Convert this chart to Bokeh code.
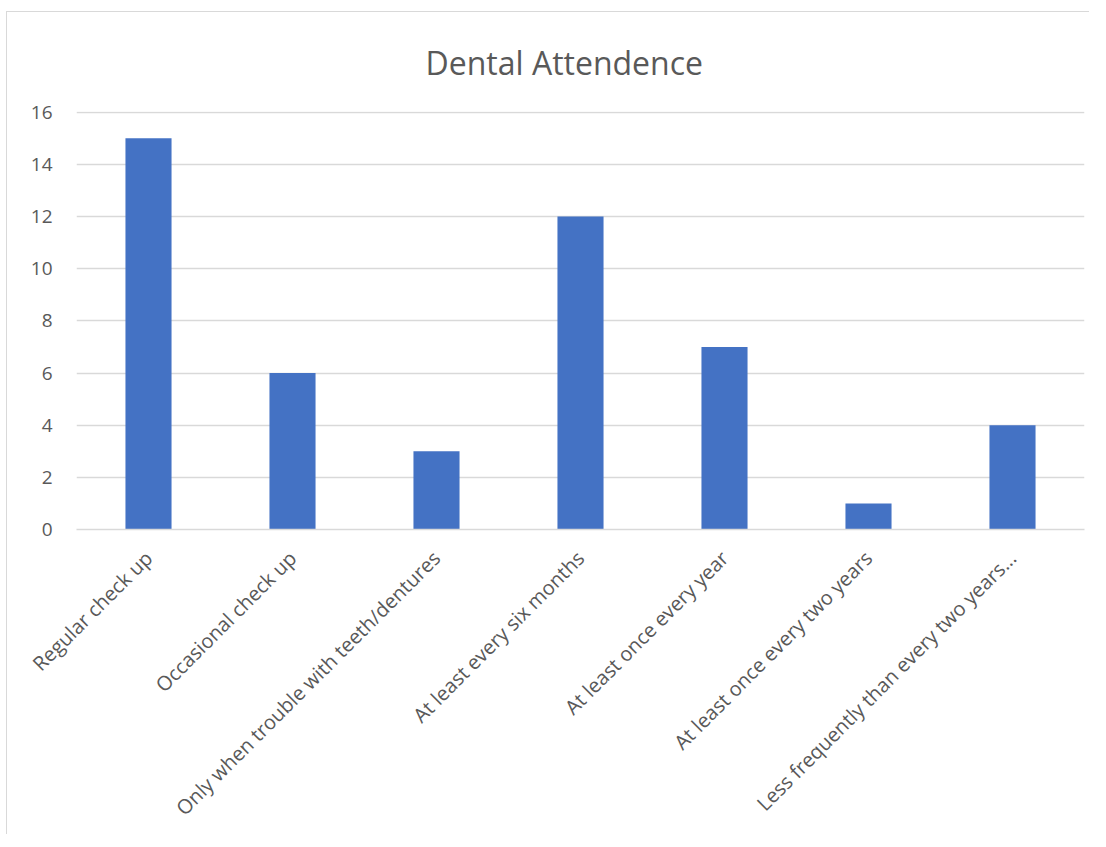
from bokeh.plotting import figure
from bokeh.models import FixedTicker, Range1d
from bokeh.embed import file_html
from bokeh.resources import INLINE
import math

categories = [
    "Regular check up",
    "Occasional check up",
    "Only when trouble with teeth/dentures",
    "At least every six months",
    "At least once every year",
    "At least once every two years",
    "Less frequently than every two years...",
]
values = [15, 6, 3, 12, 7, 1, 4]
y_ticks = [0, 2, 4, 6, 8, 10, 12, 14, 16]

FONT = "Open Sans"
TEXT = "#595959"
GRID = "#d9d9d9"

p = figure(
    x_range=categories,
    y_range=Range1d(0, 16.03),
    width=1083,
    height=823,
    output_backend="svg",
    toolbar_location=None,
    title="Dental Attendence",
    min_border_left=69,
    min_border_right=6,
    min_border_top=99,
    min_border_bottom=306,
)
p.styles = {
    "margin-left": "6px",
    "margin-top": "11px",
    "border-left": "1px solid #d9d9d9",
    "border-top": "1px solid #d9d9d9",
}

p.vbar(x=categories, top=values, width=0.32, color="#4472C4", line_color=None)

p.title.align = "left"
p.title.vertical_align = "top"
p.title.text_font = FONT
p.title.text_font_size = "32px"
p.title.text_font_style = "normal"
p.title.text_color = TEXT
p.title.standoff = 52
p.title.offset = 349

p.outline_line_color = None
p.background_fill_color = "white"
p.border_fill_color = "white"

p.xgrid.grid_line_color = None
p.ygrid.grid_line_color = GRID
p.ygrid.grid_line_width = 1.5

p.yaxis.ticker = FixedTicker(ticks=y_ticks)
p.yaxis.axis_line_color = None
p.yaxis.major_tick_line_color = None
p.yaxis.minor_tick_line_color = None
p.yaxis.major_label_text_font = FONT
p.yaxis.major_label_text_font_size = "19px"
p.yaxis.major_label_text_color = TEXT
p.yaxis.major_label_standoff = 18

p.xaxis.axis_line_color = GRID
p.xaxis.axis_line_width = 1.5
p.xaxis.major_tick_line_color = None
p.xaxis.minor_tick_line_color = None
p.xaxis.major_label_orientation = math.pi / 4
p.xaxis.major_label_text_font = FONT
p.xaxis.major_label_text_font_size = "20px"
p.xaxis.major_label_text_color = TEXT
p.xaxis.major_label_standoff = 19

open("out.html", "w").write(file_html(p, INLINE))
